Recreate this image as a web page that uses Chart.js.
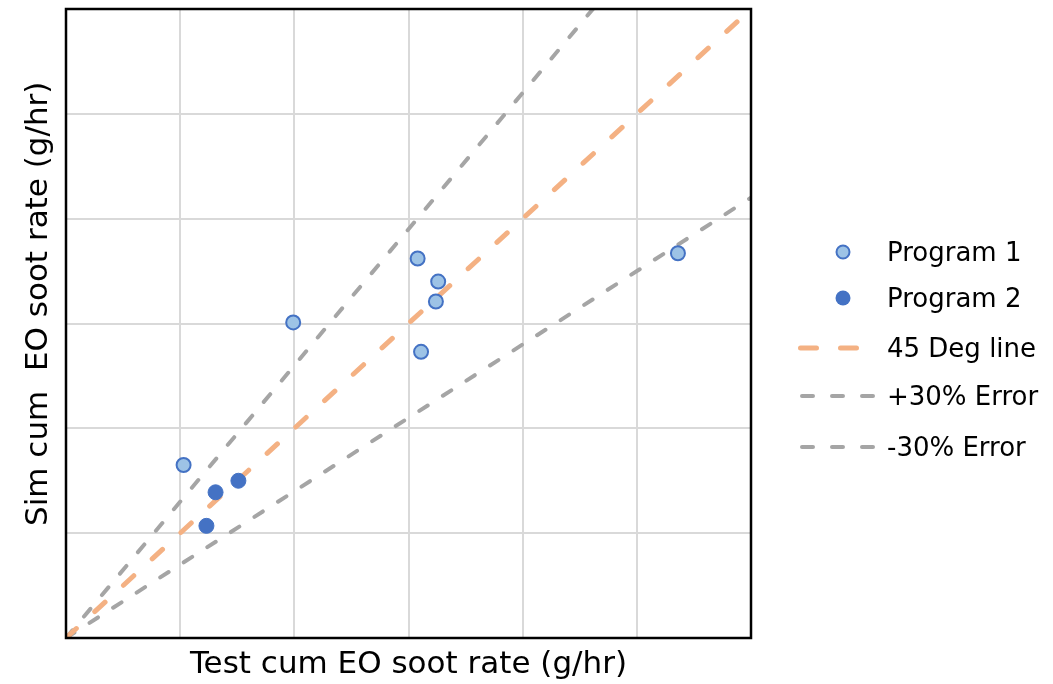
<!DOCTYPE html>
<html>
<head>
<meta charset="utf-8">
<script src="https://cdn.jsdelivr.net/npm/chart.js@4.4.0/dist/chart.umd.min.js"></script>
<style>
    html, body { margin: 0; padding: 0; background: #fff; }
    #wrap { position: relative; width: 1053px; height: 684px; }
    .item { position: absolute; left: 780px; width: 273px; height: 40px;
        font-family: "DejaVu Sans", sans-serif; font-size: 26px; color: #000; }
    .item svg { position: absolute; left: 0; top: 0; }
    .item span { position: absolute; left: 107px; top: 0; line-height: 40px; white-space: nowrap; }
</style>
</head>
<body>
<div id="wrap">
    <canvas id="chart" width="1053" height="684"></canvas>
    <div id="legend"></div>
</div>
<script>
// values (axes have no tick labels, grid is 0..6)
const program1X = [1.03, 1.99, 3.08, 3.26, 3.24, 3.11, 5.36];
const program1Y = [1.65, 3.01, 3.62, 3.40, 3.21, 2.73, 3.67];
const program2X = [1.31, 1.51, 1.23];
const program2Y = [1.39, 1.50, 1.07];

// reference lines: 45 deg, +30% and -30%
const refLineX = [0, 6];
const deg45Y = [0, 6];
const plus30Y = [0, 7.8];
const minus30Y = [0, 4.2];

const axisMin = 0;
const axisMax = 6;

const seriesNames = ["Program 1", "Program 2", "45 Deg line", "+30% Error", "-30% Error"];
const xTitle = "Test cum EO soot rate (g/hr)";
const yTitle = "    Sim cum  EO soot rate (g/hr)";

const lightBlue = "#9DC3E6";
const blue = "#4472C4";
const orange = "#F4B183";
const grey = "#A5A5A5";

function toPoints(xs, ys) {
    return xs.map((x, i) => ({ x: x, y: ys[i] }));
}

// black frame round the plot area
const framePlugin = {
    id: "frame",
    afterDatasetsDraw(chart) {
        const { ctx, chartArea } = chart;
        ctx.save();
        ctx.strokeStyle = "#000";
        ctx.lineWidth = 2.5;
        ctx.strokeRect(chartArea.left, chartArea.top,
            chartArea.right - chartArea.left, chartArea.bottom - chartArea.top);
        ctx.restore();
    },
};

const ctx = document.getElementById("chart").getContext("2d");

new Chart(ctx, {
    type: "scatter",
    data: {
        datasets: [
            {
                label: seriesNames[0],
                data: toPoints(program1X, program1Y),
                backgroundColor: lightBlue,
                borderColor: blue,
                borderWidth: 2,
                pointRadius: 7,
            },
            {
                label: seriesNames[1],
                data: toPoints(program2X, program2Y),
                backgroundColor: blue,
                borderColor: blue,
                borderWidth: 1,
                pointRadius: 7.5,
            },
            {
                label: seriesNames[2],
                type: "line",
                data: toPoints(refLineX, deg45Y),
                borderColor: orange,
                borderWidth: 5,
                borderDash: [14, 25],
                borderCapStyle: "round",
                pointRadius: 0,
                fill: false,
            },
            {
                label: seriesNames[3],
                type: "line",
                data: toPoints(refLineX, plus30Y),
                borderColor: grey,
                borderWidth: 4,
                borderDash: [10, 18],
                borderCapStyle: "round",
                pointRadius: 0,
                fill: false,
            },
            {
                label: seriesNames[4],
                type: "line",
                data: toPoints(refLineX, minus30Y),
                borderColor: grey,
                borderWidth: 4,
                borderDash: [10, 18],
                borderCapStyle: "round",
                pointRadius: 0,
                fill: false,
            },
        ],
    },
    options: {
        responsive: false,
        animation: false,
        layout: {
            autoPadding: false,
            padding: { top: 9, right: 302, left: 0, bottom: 0 },
        },
        plugins: {
            legend: { display: false },
            tooltip: { enabled: false },
        },
        scales: {
            x: {
                type: "linear",
                min: axisMin,
                max: axisMax,
                ticks: { display: false, stepSize: 1 },
                grid: { color: "#D9D9D9", lineWidth: 2, drawTicks: false },
                border: { display: false },
                title: {
                    display: true,
                    text: xTitle,
                    color: "#000",
                    font: { family: "DejaVu Sans", size: 31 },
                    padding: { top: 4, bottom: 0 },
                },
                afterFit(scale) {
                    scale.height = 46;
                },
            },
            y: {
                type: "linear",
                min: axisMin,
                max: axisMax,
                ticks: { display: false, stepSize: 1 },
                grid: { color: "#D9D9D9", lineWidth: 2, drawTicks: false },
                border: { display: false },
                title: {
                    display: true,
                    text: yTitle,
                    color: "#000",
                    font: { family: "DejaVu Sans", size: 31 },
                    padding: { top: 20, bottom: 0 },
                },
                afterFit(scale) {
                    scale.width = 66;
                },
            },
        },
    },
    plugins: [framePlugin],
});

// legend built by hand: marker centres
const legendRows = [
    { y: 252, svg: `<circle cx="63" cy="20" r="6.5" fill="${lightBlue}" stroke="${blue}" stroke-width="2"/>` },
    { y: 298, svg: `<circle cx="63" cy="20" r="7.5" fill="${blue}"/>` },
    { y: 348, svg: `<line x1="20.5" y1="20" x2="77" y2="20" stroke="${orange}" stroke-width="5" stroke-linecap="round" stroke-dasharray="16 24"/>` },
    { y: 396, svg: `<line x1="22" y1="20" x2="93" y2="20" stroke="${grey}" stroke-width="4" stroke-linecap="round" stroke-dasharray="11 19"/>` },
    { y: 447, svg: `<line x1="22" y1="20" x2="93" y2="20" stroke="${grey}" stroke-width="4" stroke-linecap="round" stroke-dasharray="11 19"/>` },
];

const legend = document.getElementById("legend");
legendRows.forEach((row, i) => {
    const div = document.createElement("div");
    div.className = "item";
    div.style.top = row.y - 20 + "px";
    div.innerHTML = `<svg width="100" height="40">${row.svg}</svg><span>${seriesNames[i]}</span>`;
    legend.appendChild(div);
});
</script>
</body>
</html>
